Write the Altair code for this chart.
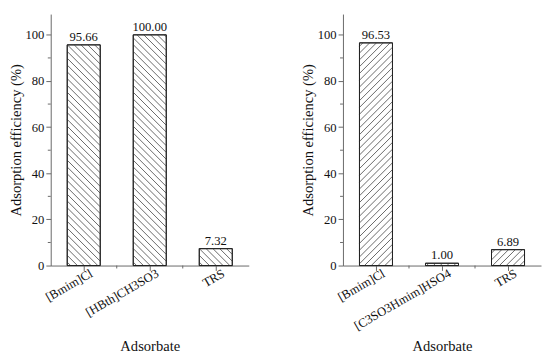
import json
import altair as alt
import pandas as pd

# ---- data ----
left_categories = ["[Bmim]Cl", "[HBth]CH3SO3", "TRS"]
left_values = [95.66, 100.00, 7.32]
right_categories = ["[Bmim]Cl", "[C3SO3Hmim]HSO4", "TRS"]
right_values = [96.53, 1.00, 6.89]
y_major_ticks = [0, 20, 40, 60, 80, 100]
y_minor_ticks = [10, 30, 50, 70, 90]
x_title = "Adsorbate"
y_title = "Adsorption efficiency (%)"

# ---- style / layout constants ----
W = 204
H = 259
YMAX = 109
BAR_HALF = 0.25
HATCH_STEP = 7  # px between hatch lines (horizontal)
FONT = "Liberation Serif"
AXIS_COLOR = "#666666"
TEXT_COLOR = "#111111"


def hatch_segments(values, direction):
    n = len(values)
    pxu = W / n
    pyu = H / YMAX
    rows = []
    for i, v in enumerate(values):
        xl = (i + 0.5 - BAR_HALF) * pxu
        xr = (i + 0.5 + BAR_HALF) * pxu
        h = v * pyu
        if direction == "back":  # "\" lines: x + y = c (y up)
            c = xl + HATCH_STEP / 2
            while c < xr + h:
                lo = max(xl, c - h)
                hi = min(xr, c)
                if hi > lo:
                    rows.append(dict(x=lo / pxu, y=(c - lo) / pyu,
                                     x2=hi / pxu, y2=(c - hi) / pyu))
                c += HATCH_STEP
        else:  # "/" lines: y = x - c
            c = xl - h + HATCH_STEP / 2
            while c < xr:
                lo = max(xl, c)
                hi = min(xr, c + h)
                if hi > lo:
                    rows.append(dict(x=lo / pxu, y=(lo - c) / pyu,
                                     x2=hi / pxu, y2=(hi - c) / pyu))
                c += HATCH_STEP
    return pd.DataFrame(rows)


def panel(categories, values, direction):
    n = len(categories)
    df = pd.DataFrame({
        "cat": categories,
        "value": values,
        "pos": [i + 0.5 for i in range(n)],
    })
    df["left"] = df["pos"] - BAR_HALF
    df["right"] = df["pos"] + BAR_HALF

    xscale = alt.Scale(domain=[0, n], nice=False, zero=False)
    yscale = alt.Scale(domain=[0, YMAX], nice=False)

    xaxis = alt.Axis(
        values=[i + 0.5 for i in range(n)], labels=False,
        title=x_title, grid=False, tickSize=5,
        titleY=76, titleBaseline="top",
        titleFont=FONT, titleFontSize=15,
        titleFontWeight="normal", titleColor=TEXT_COLOR,
        domainColor=AXIS_COLOR, tickColor=AXIS_COLOR,
    )
    yaxis = alt.Axis(
        values=y_major_ticks, title=y_title, grid=False, tickSize=5,
        labelPadding=2, titlePadding=2,
        labelFont=FONT, titleFont=FONT, labelFontSize=13, titleFontSize=15,
        titleFontWeight="normal", labelColor=TEXT_COLOR, titleColor=TEXT_COLOR,
        domainColor=AXIS_COLOR, tickColor=AXIS_COLOR,
    )

    bars = alt.Chart(df).mark_bar(fill="white", stroke="#222222", strokeWidth=1).encode(
        x=alt.X("left:Q", scale=xscale, axis=xaxis),
        x2="right:Q",
        y=alt.Y("value:Q", scale=yscale, axis=yaxis),
        y2=alt.datum(0),
    )
    hatches = alt.Chart(hatch_segments(values, direction)).mark_rule(
        color="#555555", strokeWidth=0.9
    ).encode(
        x=alt.X("x:Q", scale=xscale), x2="x2:Q",
        y=alt.Y("y:Q", scale=yscale), y2="y2:Q",
    )
    outline = alt.Chart(df).mark_bar(
        fill="transparent", stroke="#222222", strokeWidth=1
    ).encode(
        x=alt.X("left:Q", scale=xscale),
        x2="right:Q",
        y=alt.Y("value:Q", scale=yscale),
        y2=alt.datum(0),
    )
    labels = alt.Chart(df).mark_text(
        font=FONT, fontSize=13, color=TEXT_COLOR, baseline="bottom", dy=-1
    ).encode(
        x=alt.X("pos:Q", scale=xscale),
        y=alt.Y("value:Q", scale=yscale),
        text=alt.Text("value:Q", format=".2f"),
    )
    cat_labels = alt.Chart(df).mark_text(
        font=FONT, fontSize=13, color=TEXT_COLOR, angle=330,
        align="right", baseline="top", dx=6,
    ).encode(
        x=alt.X("pos:Q", scale=xscale),
        y=alt.value(H + 5),
        text="cat:N",
    )
    y_minor = alt.Chart(pd.DataFrame({"v": y_minor_ticks})).mark_rule(
        color=AXIS_COLOR, strokeWidth=1
    ).encode(
        y=alt.Y("v:Q", scale=yscale),
        x=alt.value(0), x2=alt.value(-3),
    )
    x_minor = alt.Chart(pd.DataFrame({"v": list(range(1, n))})).mark_rule(
        color=AXIS_COLOR, strokeWidth=1
    ).encode(
        x=alt.X("v:Q", scale=xscale),
        y=alt.value(H), y2=alt.value(H + 3),
    )
    return alt.layer(bars, hatches, outline, labels, cat_labels, y_minor, x_minor).properties(
        width=W, height=H
    )


chart = alt.hconcat(
    panel(left_categories, left_values, "back"),
    panel(right_categories, right_values, "fwd"),
    spacing=52,
    padding=0,
).properties(
    background="white",
).configure_view(
    stroke="transparent"
).configure_axis(
    labelFont=FONT, titleFont=FONT, titleFontWeight="normal",
)

chart.save("out.html", embed_options={"renderer": "svg", "actions": False})
